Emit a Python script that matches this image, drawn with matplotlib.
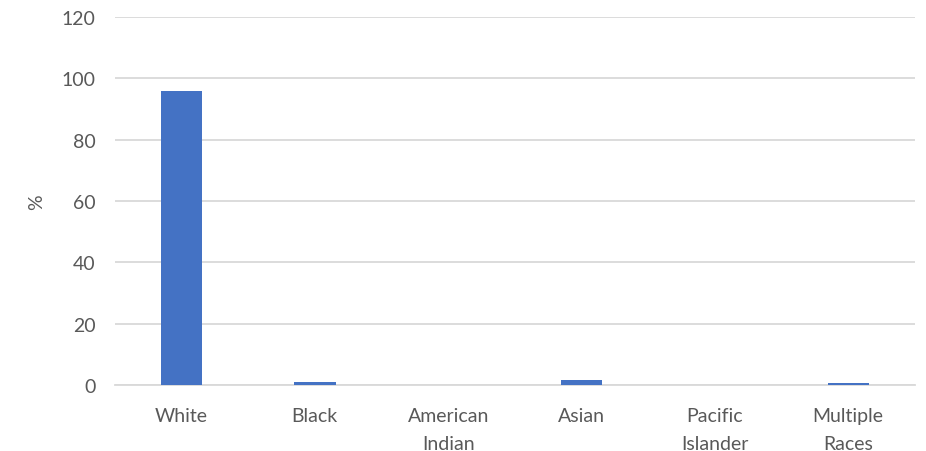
import matplotlib

matplotlib.use("Agg")
import matplotlib.pyplot as plt

categories = ["White", "Black", "American\nIndian", "Asian", "Pacific\nIslander", "Multiple\nRaces"]
percent = [96.0, 1.0, 0.1, 1.5, 0.0, 0.5]
y_ticks = [0, 20, 40, 60, 80, 100, 120]

plt.rcParams["font.family"] = ["Lato", "DejaVu Sans"]

fig = plt.figure(figsize=(9.26, 4.52), dpi=100)
ax = fig.add_axes([0.124, 0.146, 0.864, 0.814])

x = range(len(categories))
ax.bar(x, percent, width=0.31, color="#4472C4", zorder=3)

ax.set_xlim(-0.5, len(categories) - 0.5)
ax.set_ylim(0, 120)
ax.set_yticks(y_ticks)
ax.set_xticks(list(x))
ax.set_xticklabels(categories, fontsize=14, color="#595959", linespacing=1.75)
ax.tick_params(axis="y", labelsize=14, labelcolor="#595959", length=0, pad=14)
ax.tick_params(axis="x", length=0, pad=16)
ax.set_ylabel("%", fontsize=14, color="#595959", labelpad=12)

ax.grid(axis="y", color="#D9D9D9", linewidth=1.3, zorder=0)
for side in ["top", "right", "left"]:
    ax.spines[side].set_visible(False)
ax.spines["bottom"].set_color("#D9D9D9")
ax.spines["bottom"].set_linewidth(1.3)

fig.savefig("out.png", dpi=100)
